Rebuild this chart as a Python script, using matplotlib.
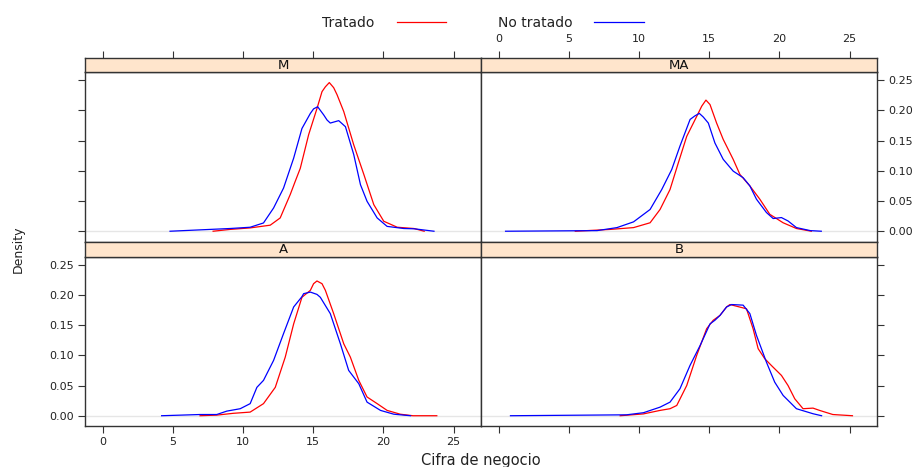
import matplotlib
matplotlib.use("Agg")
import matplotlib.pyplot as plt
from matplotlib.lines import Line2D

plt.rcParams['font.family'] = ['DejaVu Sans']

# densidades (x = cifra de negocio, y = densidad)
m_trat_x = [7.86, 9.07, 10.5, 11.93, 12.64, 13.36, 13.71, 14.07, 14.67, 15.26, 15.62, 15.86, 16.14, 16.45, 16.69, 17.17, 17.88, 18.6, 19.31, 20.02, 20.98, 22.17, 22.9]
m_trat_y = [0, 0.003, 0.0055, 0.010, 0.022, 0.061, 0.0825, 0.104, 0.160, 0.203, 0.231, 0.239, 0.246, 0.2376, 0.226, 0.198, 0.143, 0.094, 0.044, 0.0165, 0.0066, 0.0045, 0.0]
m_notr_x = [4.79, 9.07, 10.5, 11.45, 12.17, 12.88, 13.6, 14.19, 14.79, 15.02, 15.31, 15.74, 15.98, 16.21, 16.81, 17.29, 17.88, 18.36, 18.83, 19.55, 20.26, 21.45, 22.2, 23.6]
m_notr_y = [0, 0.0045, 0.0066, 0.0137, 0.0385, 0.0715, 0.121, 0.170, 0.195, 0.2025, 0.206, 0.1925, 0.184, 0.179, 0.183, 0.173, 0.127, 0.077, 0.0495, 0.022, 0.008, 0.0045, 0.004, 0]

ma_trat_x = [5.45, 7.94, 9.6, 10.78, 11.49, 12.2, 12.79, 13.39, 14.1, 14.46, 14.76, 15.05, 15.52, 15.99, 16.7, 17.18, 17.89, 18.6, 19.31, 20.26, 21.21, 22.27]
ma_trat_y = [0, 0.003, 0.006, 0.014, 0.036, 0.069, 0.113, 0.157, 0.190, 0.207, 0.217, 0.2096, 0.179, 0.152, 0.119, 0.094, 0.075, 0.053, 0.028, 0.014, 0.0045, 0]
ma_notr_x = [0.48, 7.0, 8.42, 9.6, 10.78, 11.61, 12.32, 12.91, 13.63, 13.98, 14.29, 14.57, 14.93, 15.4, 15.99, 16.7, 17.41, 17.89, 18.36, 19.07, 19.55, 20.14, 20.61, 21.21, 22.2, 22.98]
ma_notr_y = [0, 0.001, 0.006, 0.0155, 0.036, 0.069, 0.102, 0.141, 0.185, 0.191, 0.195, 0.189, 0.179, 0.146, 0.119, 0.0995, 0.0886, 0.075, 0.053, 0.031, 0.021, 0.0226, 0.017, 0.006, 0.001, 0]

a_trat_x = [6.93, 8.12, 9.3, 10.5, 11.45, 12.29, 13.0, 13.6, 14.19, 14.79, 15.02, 15.26, 15.62, 15.86, 16.45, 17.17, 17.64, 18.24, 18.83, 19.55, 20.26, 21.2, 22.1, 23.8]
a_trat_y = [0, 0.001, 0.004, 0.006, 0.020, 0.047, 0.097, 0.152, 0.196, 0.2075, 0.2185, 0.223, 0.2185, 0.2075, 0.169, 0.119, 0.097, 0.0585, 0.031, 0.020, 0.0088, 0.0025, 0, 0]
a_notr_x = [4.19, 6.93, 8.12, 8.83, 9.79, 10.5, 10.98, 11.45, 12.17, 12.88, 13.6, 14.19, 14.31, 14.79, 15.26, 15.5, 16.21, 16.93, 17.52, 18.24, 18.83, 19.79, 20.74, 21.93]
a_notr_y = [0, 0.002, 0.002, 0.0076, 0.0116, 0.020, 0.047, 0.0585, 0.0916, 0.136, 0.180, 0.197, 0.202, 0.2046, 0.2008, 0.196, 0.169, 0.119, 0.075, 0.053, 0.0225, 0.0088, 0.0025, 0]

b_trat_x = [8.65, 10.3, 11.49, 12.2, 12.68, 13.39, 14.1, 14.81, 15.28, 15.76, 16.23, 16.47, 17.65, 18.12, 18.48, 18.95, 19.43, 20.14, 20.61, 21.09, 21.68, 22.39, 22.86, 23.8, 25.2]
b_trat_y = [0, 0.003, 0.0088, 0.0116, 0.017, 0.050, 0.0998, 0.144, 0.158, 0.166, 0.180, 0.184, 0.177, 0.144, 0.111, 0.0944, 0.083, 0.0667, 0.050, 0.028, 0.0116, 0.0126, 0.0088, 0.002, 0]
b_notr_x = [0.83, 9.1, 10.31, 11.49, 12.2, 12.91, 13.62, 14.34, 15.05, 15.4, 15.76, 16.23, 16.59, 17.41, 17.89, 18.36, 19.07, 19.66, 20.26, 21.21, 22.39, 23.0]
b_notr_y = [0, 0.0015, 0.005, 0.0142, 0.0225, 0.0447, 0.083, 0.116, 0.152, 0.158, 0.166, 0.180, 0.184, 0.183, 0.169, 0.133, 0.0887, 0.0556, 0.0336, 0.0116, 0.0033, 0]

panels = ["M", "MA", "A", "B"]
xticks = [0, 5, 10, 15, 20, 25]
yticks = [0.00, 0.05, 0.10, 0.15, 0.20, 0.25]
ytick_labels = ["0.00", "0.05", "0.10", "0.15", "0.20", "0.25"]

data = {
    "M": (m_trat_x, m_trat_y, m_notr_x, m_notr_y),
    "MA": (ma_trat_x, ma_trat_y, ma_notr_x, ma_notr_y),
    "A": (a_trat_x, a_trat_y, a_notr_x, a_notr_y),
    "B": (b_trat_x, b_trat_y, b_notr_x, b_notr_y),
}

W, H = 921, 467
fig = plt.figure(figsize=(W / 100, H / 100), dpi=100)

def box(x0, y0, x1, y1):
    # pixel box (top-left origin) -> figure fraction
    return [x0 / W, 1 - y1 / H, (x1 - x0) / W, (y1 - y0) / H]

cols = [(85, 481), (481, 877)]
rows = [(72, 241.5, 58), (256.5, 426, 242)]
xlim = (-1.27, 26.95)
ylim = (-0.017, 0.2635)
tick_col = "#333333"
edge_col = "#333333"

for k, name in enumerate(panels):
    r, c = divmod(k, 2)
    x0, x1 = cols[c]
    p0, p1, s0 = rows[r]
    ax = fig.add_axes(box(x0, p0, x1, p1))
    st = fig.add_axes(box(x0, s0, x1, p0))

    tx, ty, nx, ny = data[name]
    ax.axhline(0, color="#e6e6e6", lw=1.0, zorder=1)
    ax.plot(tx, ty, color="red", lw=0.9, zorder=3, solid_joinstyle="round")
    ax.plot(nx, ny, color="blue", lw=0.9, zorder=3, solid_joinstyle="round")
    ax.set_xlim(xlim)
    ax.set_ylim(ylim)
    for sp in ax.spines.values():
        sp.set_color(edge_col)
        sp.set_linewidth(1.0)

    ax.set_xticks(xticks)
    ax.set_yticks(yticks)
    ax.set_yticklabels(ytick_labels)
    ax.tick_params(direction="out", length=5, width=0.8, color=tick_col,
                   labelsize=8, labelcolor="#222222", pad=3)
    ax.tick_params(top=False, labeltop=False)
    # ticks alternating like lattice
    ax.tick_params(bottom=(r == 1), labelbottom=(r == 1 and c == 0))
    ax.tick_params(left=(c == 0), labelleft=(c == 0 and r == 1),
                   right=(c == 1), labelright=(c == 1 and r == 0))

    st.set_facecolor("#ffe5cc")
    st.set_xlim(xlim)
    st.set_yticks([])
    st.set_xticks(xticks)
    st.tick_params(bottom=False, labelbottom=False)
    st.tick_params(direction="out", length=5, width=0.8, color=tick_col,
                   labelsize=8, labelcolor="#222222", pad=5,
                   top=(r == 0), labeltop=(r == 0 and c == 1))
    for sp in st.spines.values():
        sp.set_color(edge_col)
        sp.set_linewidth(1.0)
    st.text(0.5, 0.45, name, transform=st.transAxes, ha="center", va="center",
            fontsize=9.5, color="#111111")

# legend on top
fig.text(348 / W, 1 - 23 / H, "Tratado", ha="center", va="center", fontsize=10, color="#222222")
fig.add_artist(Line2D([397 / W, 446 / W], [1 - 22 / H, 1 - 22 / H], color="red", lw=0.9))
fig.text(535 / W, 1 - 23 / H, "No tratado", ha="center", va="center", fontsize=10, color="#222222")
fig.add_artist(Line2D([594 / W, 644 / W], [1 - 22 / H, 1 - 22 / H], color="blue", lw=0.9))

fig.text(481 / W, 1 - 460 / H, "Cifra de negocio", ha="center", va="center", fontsize=10.5, color="#222222")
fig.text(18 / W, 1 - 249 / H, "Density", ha="center", va="center", rotation=90, fontsize=9, color="#222222")

fig.savefig("out.png", dpi=100)
